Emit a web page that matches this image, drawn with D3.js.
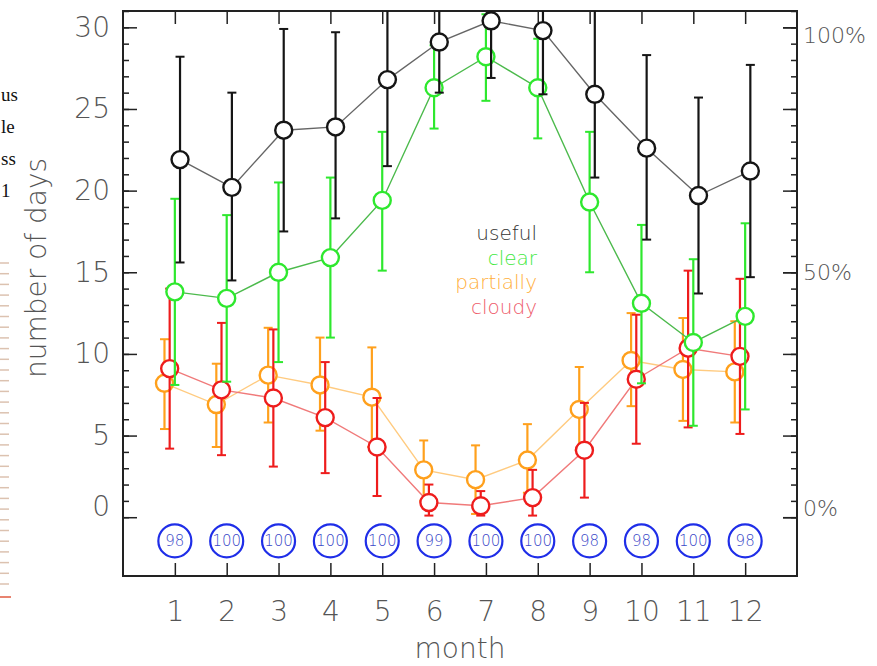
<!DOCTYPE html>
<html>
<head>
<meta charset="utf-8">
<script src="https://cdn.jsdelivr.net/npm/d3@7"></script>
<style>
body { margin: 0; background: #fff; }
text { font-family: "DejaVu Sans", sans-serif; font-weight: 200; }
</style>
</head>
<body>
<svg id="chart" width="877" height="666"></svg>
<script>
var months = [1, 2, 3, 4, 5, 6, 7, 8, 9, 10, 11, 12];

var useful   = [21.9, 20.2, 23.7, 23.9, 26.8, 29.1, 30.4, 29.8, 25.9, 22.6, 19.7, 21.2];
var usefulHi = [28.2, 26.0, 29.9, 29.7, 32.1, 32.2, 33.9, 33.7, 31.1, 28.3, 25.7, 27.7];
var usefulLo = [15.6, 14.5, 17.5, 18.3, 21.5, 26.0, 26.9, 25.9, 20.8, 17.0, 13.7, 14.7];

var clear   = [13.8, 13.4, 15.0, 15.9, 19.4, 26.3, 28.2, 26.3, 19.3, 13.1, 10.7, 12.3];
var clearHi = [19.5, 18.5, 20.5, 20.8, 23.6, 28.9, 30.8, 29.3, 23.6, 17.9, 15.8, 18.0];
var clearLo = [ 8.1,  8.3,  9.5, 11.0, 15.1, 23.8, 25.5, 23.2, 15.0,  8.2,  5.6,  6.6];

var partly   = [8.2, 6.9, 8.7, 8.1, 7.35, 2.9, 2.3, 3.5, 6.6, 9.6, 9.05, 8.9];
var partlyHi = [10.9, 9.4, 11.6, 11.0, 10.4, 4.7, 4.4, 5.7, 9.2, 12.5, 12.2, 12.0];
var partlyLo = [5.4, 4.3, 5.8, 5.3, 4.3, 1.0, 0.2, 1.5, 4.1, 6.8, 5.9, 5.8];

var cloudy   = [9.1, 7.8, 7.3, 6.1, 4.3, 0.9, 0.7, 1.2, 4.1, 8.45, 10.35, 9.85];
var cloudyHi = [14.0, 11.9, 11.5, 9.5, 7.3, 2.0, 1.6, 2.9, 7.0, 12.4, 15.1, 14.6];
var cloudyLo = [4.2, 3.8, 3.1, 2.7, 1.3, 0.1, 0.1, 0.1, 1.2, 4.5, 5.5, 5.1];

var coverage = [98, 100, 100, 100, 100, 99, 100, 100, 98, 98, 100, 98];

var legendNames = ["useful", "clear", "partially", "cloudy"];
var pctTicks = [0, 15, 30];
var pctLabels = ["0%", "50%", "100%"];
var sideWords = ["us", "le", "ss", "1"];

var series = [
  {mean: partly, hi: partlyHi, lo: partlyLo, off: -0.2, mark: "#ffa01c", line: "#ffcb80"},
  {mean: cloudy, hi: cloudyHi, lo: cloudyLo, off: -0.1, mark: "#ee1c1c", line: "#f07a7a"},
  {mean: clear,  hi: clearHi,  lo: clearLo,  off: 0,    mark: "#2ee82e", line: "#4cba4c"},
  {mean: useful, hi: usefulHi, lo: usefulLo, off: 0.1,  mark: "#151515", line: "#666666"}
];
var legendColors = ["#333333", "#3ee83e", "#ffae3a", "#ee5a6a"];

var svg = d3.select("#chart");

var x = d3.scaleLinear().domain([0, 13]).range([123, 797]);
var y = d3.scaleLinear().domain([-3.6, 31]).range([576, 11]);

// left-edge leftovers of the page the figure was cut from
svg.append("g").selectAll("line")
    .data(d3.range(263, 592, 10.7))
    .enter().append("line")
    .attr("x1", 0).attr("x2", 9)
    .attr("y1", function(d) { return d; }).attr("y2", function(d) { return d; })
    .attr("stroke", "#dcc2b0").attr("stroke-width", 1.5);
svg.append("line").attr("x1", 0).attr("x2", 11).attr("y1", 597).attr("y2", 597)
    .attr("stroke", "#e05a40").attr("stroke-width", 1.5);
svg.append("g").selectAll("text")
    .data(sideWords)
    .enter().append("text")
    .attr("x", 1)
    .attr("y", function(d, i) { return 101 + 32 * i; })
    .style("font-family", "'Liberation Serif', serif")
    .style("font-weight", 400)
    .style("font-size", "19px")
    .attr("fill", "#111")
    .text(function(d) { return d; });

// axes
function styleAxis(g) {
  g.select(".domain").remove();
  g.selectAll(".tick line").attr("stroke", "#222").attr("stroke-width", 1.5);
  g.selectAll(".tick text").attr("fill", "#555");
}

var minor = d3.range(0, 32), major = d3.range(0, 31, 5);

svg.append("g").attr("transform", "translate(123,0)")
    .call(d3.axisLeft(y).tickValues(minor).tickSize(-6).tickFormat(""))
    .call(styleAxis);
var left = svg.append("g").attr("transform", "translate(123,0)")
    .call(d3.axisLeft(y).tickValues(major).tickSize(-14).tickPadding(13))
    .call(styleAxis);
left.selectAll(".tick text").style("font-size", "28px")
    .attr("dy", function(d) { return d === 0 ? "-0.05em" : "0.32em"; });

svg.append("g").attr("transform", "translate(797,0)")
    .call(d3.axisRight(y).tickValues(minor).tickSize(-6).tickFormat(""))
    .call(styleAxis);
svg.append("g").attr("transform", "translate(797,0)")
    .call(d3.axisRight(y).tickValues(major).tickSize(-14).tickFormat(""))
    .call(styleAxis);
var right = svg.append("g").attr("transform", "translate(797,0)")
    .call(d3.axisRight(y).tickValues(pctTicks).tickSize(-14).tickPadding(6)
          .tickFormat(function(d, i) { return pctLabels[i]; }))
    .call(styleAxis);
right.selectAll(".tick text").style("font-size", "22px")
    .attr("dy", function(d) { return d === 0 ? "-0.1em" : d === 30 ? "0.7em" : "0.32em"; });

var bottom = svg.append("g").attr("transform", "translate(0,576)")
    .call(d3.axisBottom(x).tickValues(months).tickSize(-13).tickPadding(25))
    .call(styleAxis);
bottom.selectAll(".tick text").style("font-size", "28px");

svg.append("g").attr("transform", "translate(0,11)")
    .call(d3.axisTop(x).tickValues(months).tickSize(-13).tickFormat(""))
    .call(styleAxis);

svg.append("rect")
    .attr("x", x(0)).attr("y", y(31))
    .attr("width", x(13) - x(0)).attr("height", y(-3.6) - y(31))
    .attr("fill", "none").attr("stroke", "#222").attr("stroke-width", 2);

svg.append("text")
    .attr("x", (x(0) + x(13)) / 2).attr("y", 658)
    .attr("text-anchor", "middle")
    .style("font-size", "28px").attr("fill", "#555")
    .text("month");

svg.append("text")
    .attr("transform", "translate(46,268) rotate(-90)")
    .attr("text-anchor", "middle")
    .style("font-size", "28px").attr("fill", "#555")
    .text("number of days");

// data
svg.append("clipPath").attr("id", "plotclip")
  .append("rect")
    .attr("x", x(0)).attr("y", y(31))
    .attr("width", x(13) - x(0)).attr("height", y(-3.6) - y(31));

var plot = svg.append("g").attr("clip-path", "url(#plotclip)");

series.forEach(function(s) {
  var g = plot.append("g");
  var xs = function(d, i) { return x(months[i] + s.off); };

  g.selectAll(".bar")
      .data(s.mean)
      .enter().append("line")
      .attr("x1", xs).attr("x2", xs)
      .attr("y1", function(d, i) { return y(s.hi[i]); })
      .attr("y2", function(d, i) { return y(s.lo[i]); })
      .attr("stroke", s.mark).attr("stroke-width", 2.2);

  [s.hi, s.lo].forEach(function(arr) {
    g.selectAll(null)
        .data(arr)
        .enter().append("line")
        .attr("x1", function(d, i) { return xs(d, i) - 4.5; })
        .attr("x2", function(d, i) { return xs(d, i) + 4.5; })
        .attr("y1", function(d) { return y(d); })
        .attr("y2", function(d) { return y(d); })
        .attr("stroke", s.mark).attr("stroke-width", 2);
  });

  g.append("path")
      .datum(s.mean)
      .attr("fill", "none")
      .attr("stroke", s.line)
      .attr("stroke-width", 1.4)
      .attr("d", d3.line().x(xs).y(function(d) { return y(d); }));

  g.selectAll("circle")
      .data(s.mean)
      .enter().append("circle")
      .attr("cx", xs)
      .attr("cy", function(d) { return y(d); })
      .attr("r", 8.5)
      .attr("fill", "#fff")
      .attr("stroke", s.mark)
      .attr("stroke-width", 2.4);
});

// coverage badges
var badge = svg.append("g").selectAll("g")
    .data(coverage)
    .enter().append("g")
    .attr("transform", function(d, i) { return "translate(" + x(months[i]) + "," + y(-1.45) + ")"; });
badge.append("circle")
    .attr("r", 16.5)
    .attr("fill", "none")
    .attr("stroke", "#1f2ee8")
    .attr("stroke-width", 2.2);
badge.append("text")
    .attr("text-anchor", "middle")
    .attr("dy", "0.35em")
    .style("font-size", "15px")
    .attr("fill", "#3a48c8")
    .text(function(d) { return d; });

// legend
svg.append("g").selectAll("text")
    .data(legendNames)
    .enter().append("text")
    .attr("x", 537)
    .attr("y", function(d, i) { return 233 + 24.5 * i; })
    .attr("dy", "0.35em")
    .attr("text-anchor", "end")
    .style("font-size", "20px")
    .attr("fill", function(d, i) { return legendColors[i]; })
    .text(function(d) { return d; });
</script>
</body>
</html>
